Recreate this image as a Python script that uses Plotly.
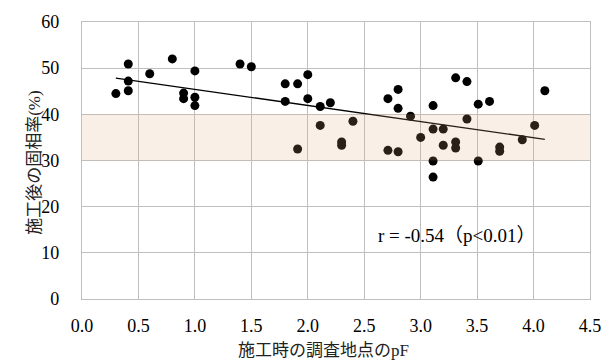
import numpy as np
import plotly.graph_objects as go

# pF at survey time (x) and solid phase ratio after construction (%) (y)
pf_values = [0.41, 0.80, 0.60, 1.00, 1.40, 1.50, 0.41, 0.30, 0.41, 0.90, 0.90, 1.00, 1.00,
             1.80, 1.91, 2.00, 1.80, 2.00, 2.11, 2.20, 2.11, 2.40, 1.91, 2.30, 2.30,
             2.71, 2.80, 2.80, 2.91, 2.71, 2.80, 3.00, 3.11, 3.11, 3.20, 3.20, 3.11, 3.11,
             3.31, 3.41, 3.31, 3.31, 3.41, 3.51, 3.61, 3.51, 3.70, 3.70, 3.90, 4.01, 4.10]
solid_ratio = [50.9, 52.0, 48.8, 49.4, 50.9, 50.3, 47.2, 44.5, 45.1, 44.6, 43.4, 43.7, 41.9,
               46.6, 46.6, 48.6, 42.8, 43.4, 41.7, 42.5, 37.6, 38.5, 32.5, 34.0, 33.3,
               43.4, 45.4, 41.3, 39.6, 32.2, 31.9, 35.0, 41.9, 36.8, 36.8, 33.3, 29.9, 26.4,
               47.9, 47.1, 34.0, 32.7, 39.0, 42.2, 42.8, 29.9, 32.9, 32.0, 34.5, 37.6, 45.1]

band_low, band_high = 30, 40
x_ticks = [0.0, 0.5, 1.0, 1.5, 2.0, 2.5, 3.0, 3.5, 4.0, 4.5]
y_ticks = [0, 10, 20, 30, 40, 50, 60]
annotation_text = "r = -0.54（p<0.01）"
x_title = "施工時の調査地点のpF"
y_title = "施工後の固相率(%)"

x = np.array(pf_values)
y = np.array(solid_ratio)
slope, intercept = np.polyfit(x, y, 1)
x_line = np.array([x.min(), x.max()])
y_line = slope * x_line + intercept

FONT = "Liberation Serif, 'Times New Roman', 'Noto Sans CJK JP', serif"
GRID = "#BFBFBF"

fig = go.Figure()
fig.add_trace(go.Scatter(x=x, y=y, mode="markers",
                         marker=dict(color="black", size=9, line=dict(width=0)),
                         showlegend=False, hoverinfo="skip"))
fig.add_trace(go.Scatter(x=x_line, y=y_line, mode="lines",
                         line=dict(color="black", width=1.3),
                         showlegend=False, hoverinfo="skip"))

fig.add_shape(type="rect", xref="x", yref="y", x0=x_ticks[0], x1=x_ticks[-1],
              y0=band_low, y1=band_high, layer="above",
              fillcolor="rgba(226,168,126,0.19)", line=dict(width=0))

fig.add_annotation(x=3.32, y=13.7, xref="x", yref="y", text=annotation_text,
                   showarrow=False, font=dict(family=FONT, size=19, color="black"))
fig.add_annotation(x=0.475, y=-0.185, xref="paper", yref="paper", text=x_title,
                   showarrow=False, yanchor="middle",
                   font=dict(family=FONT, size=17, color="#222"))
fig.add_annotation(x=-0.116, y=0.49, xref="paper", yref="paper", text=y_title,
                   showarrow=False, textangle=-90,
                   font=dict(family=FONT, size=17, color="#222"))

fig.update_layout(
    width=613, height=363,
    margin=dict(l=82, r=15, t=18, b=64),
    paper_bgcolor="white", plot_bgcolor="white",
    font=dict(family=FONT, size=18, color="black"),
    showlegend=False,
)
fig.update_xaxes(range=[0, 4.5], tickvals=x_ticks, tickformat=".1f",
                 showgrid=True, gridcolor=GRID, gridwidth=1.3,
                 showline=True, linecolor=GRID, linewidth=1.3, mirror=True,
                 zeroline=False, ticks="outside", ticklen=10,
                 tickcolor="rgba(0,0,0,0)", tickfont=dict(family=FONT, size=18))
fig.update_yaxes(range=[0, 60], tickvals=y_ticks,
                 showgrid=True, gridcolor=GRID, gridwidth=1.3,
                 showline=True, linecolor=GRID, linewidth=1.3, mirror=True,
                 zeroline=False, ticks="outside", ticklen=18,
                 tickcolor="rgba(0,0,0,0)", tickfont=dict(family=FONT, size=18))

fig.write_html("out.html")
